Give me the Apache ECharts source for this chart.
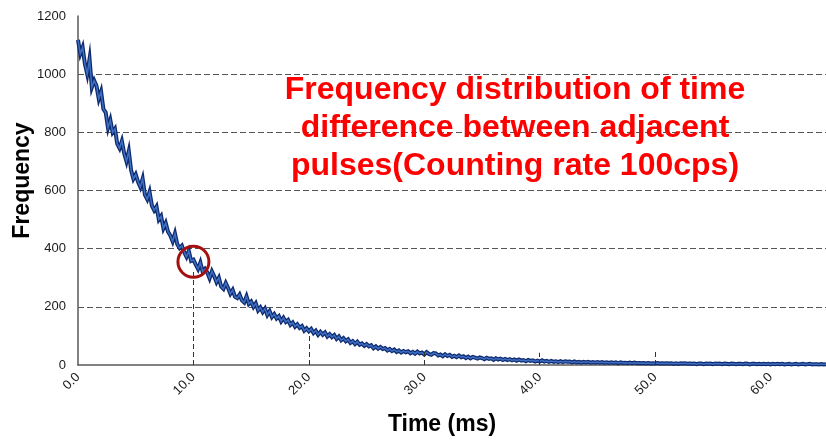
<!DOCTYPE html>
<html>
<head>
<meta charset="utf-8">
<script src="https://cdn.jsdelivr.net/npm/echarts@6/dist/echarts.min.js"></script>
<style>
  html, body { margin: 0; padding: 0; background: #ffffff; }
  #chart { width: 826px; height: 440px; }
</style>
</head>
<body>
<div id="chart"></div>
<script>
const binWidthMs = 0.2;
const frequencies = [
  1118, 1070, 1092, 1035, 1000,
  1052, 955, 978, 960, 915,
  940, 880, 868, 815, 842,
  800, 812, 760, 745, 770,
  728, 700, 735, 670, 640,
  655, 630, 612, 640, 585,
  570, 595, 548, 532, 545,
  500, 512, 470, 488, 458,
  445, 425, 452, 415, 402,
  410, 388, 372, 392, 358,
  362, 345, 330, 352, 320,
  330, 318, 298, 322, 305,
  285, 300, 270, 262, 282,
  265, 245, 258, 235, 230,
  242, 222, 215, 236, 210,
  218, 200, 212, 188, 198,
  182, 194, 172, 185, 165,
  175, 160, 168, 150, 162,
  148, 155, 138, 146, 132,
  140, 128, 134, 118, 126,
  116, 124, 110, 118, 104,
  114, 104, 112, 98, 106,
  96, 103, 90, 98, 85,
  92, 82, 88, 76, 82,
  72, 80, 70, 74, 66,
  72, 64, 68, 58, 64,
  56, 62, 55, 58, 50,
  55, 48, 53, 45, 50,
  43, 48, 44, 47, 40,
  45, 39, 46, 40, 43,
  36, 44, 38, 35, 41,
  40, 33, 36, 30, 37,
  31, 35, 28, 32, 27,
  33, 27, 30, 24, 29,
  23, 28, 25, 22, 26,
  24, 20, 25, 21, 23,
  18, 23, 19, 22, 17,
  21, 17, 20, 16, 19,
  15, 19, 15, 17, 13,
  17, 14, 16, 12, 15,
  12, 16, 12, 14, 11,
  14, 11, 13, 10, 13,
  10, 13, 11, 12, 9,
  12, 9, 11, 8, 11,
  9, 11, 8, 10, 8,
  10, 8, 10, 7, 9,
  7, 9, 7, 9, 6,
  9, 7, 8, 6, 8,
  6, 8, 6, 7, 6,
  7, 5, 7, 5, 6,
  5, 7, 5, 6, 5,
  6, 5, 6, 4, 6,
  4, 6, 5, 6, 4,
  5, 4, 5, 3, 5,
  5, 3, 5, 4, 5,
  3, 5, 4, 5, 3,
  5, 4, 3, 5, 4,
  3, 4, 4, 3, 5,
  4, 2, 4, 4, 3,
  4, 3, 4, 3, 4,
  2, 4, 3, 4, 3,
  4, 2, 3, 4, 2,
  3, 4, 2, 3, 4,
  2, 3, 4, 2, 3,
  3, 2, 3, 2, 3
];
// Time-bin category labels (ms)
const timeCategories = frequencies.map((_, i) => (i * binWidthMs).toFixed(1));

// Y-axis ticks
const yTicks = [0, 200, 400, 600, 800, 1000, 1200];

// Vertical dashed drop lines: time (ms) and top frequency
const dropLineTimes = ['10.0', '20.0', '30.0', '40.0', '50.0'];
const dropLineTops = [325, 113, 44, 42, 52];

// Highlighted point (red circle)
const highlightTime = '10.0';
const highlightValue = 355;

const titleLines = [
  'Frequency distribution of time',
  'difference between adjacent',
  'pulses(Counting rate 100cps)'
];

const chart = echarts.init(document.getElementById('chart'), null, { renderer: 'canvas' });

const fontFamily = '"Liberation Sans", Arial, sans-serif';

const option = {
  animation: false,
  backgroundColor: '#ffffff',
  grid: { left: 78, right: 0, top: 16, bottom: 75, containLabel: false, outerBoundsMode: 'none' },
  xAxis: {
    type: 'category',
    data: timeCategories,
    boundaryGap: false,
    name: 'Time (ms)',
    nameLocation: 'middle',
    nameGap: 48,
    nameMoveOverlap: false,
    nameTextStyle: {
      fontFamily, fontWeight: 'bold', fontSize: 23, color: '#000',
      padding: [0, 20, 0, 0]
    },
    axisLine: { show: true, lineStyle: { color: '#595959', width: 1.5 } },
    axisTick: { show: false },
    axisLabel: {
      interval: 49,
      rotate: 45,
      margin: 10,
      fontFamily, fontSize: 13, color: '#1a1a1a'
    },
    splitLine: { show: false }
  },
  yAxis: {
    type: 'value',
    min: yTicks[0],
    max: yTicks[yTicks.length - 1],
    interval: 200,
    name: 'Frequency',
    nameLocation: 'middle',
    nameGap: 44,
    nameMoveOverlap: false,
    nameTextStyle: {
      fontFamily, fontWeight: 'bold', fontSize: 23, color: '#000',
      padding: [0, 0, 0, 20]
    },
    axisLine: { show: true, lineStyle: { color: '#595959', width: 1.5 } },
    axisTick: { show: false },
    axisLabel: {
      margin: 12, fontFamily, fontSize: 13, color: '#1a1a1a',
      formatter: (v) => String(v)
    },
    splitLine: {
      show: true,
      showMinLine: false,
      showMaxLine: false,
      lineStyle: { color: '#555', width: 1, type: [6, 3] }
    }
  },
  graphic: [{
    type: 'text',
    z: 100,
    style: {
      text: titleLines.join('\n'),
      x: 515,
      y: 128,
      align: 'center',
      verticalAlign: 'middle',
      lineHeight: 38,
      font: 'bold 32px ' + fontFamily,
      fill: '#ff0000'
    }
  }],
  series: [
    {
      name: 'outline',
      type: 'line',
      data: frequencies,
      showSymbol: false,
      symbol: 'none',
      lineStyle: { color: '#0e2a6e', width: 4, join: 'miter' },
      z: 2,
      markLine: {
        silent: true,
        symbol: 'none',
        label: { show: false },
        lineStyle: { color: '#333', width: 1, type: [5, 3] },
        data: dropLineTimes.map((t, i) => [
          { coord: [t, 0] },
          { coord: [t, dropLineTops[i]] }
        ])
      }
    },
    {
      name: 'Frequency',
      type: 'line',
      data: frequencies,
      showSymbol: false,
      symbol: 'none',
      lineStyle: { color: '#3f6fc2', width: 1.5, join: 'miter' },
      z: 3,
      markPoint: {
        silent: true,
        symbol: 'circle',
        symbolSize: 31,
        label: { show: false },
        itemStyle: { color: 'rgba(0,0,0,0)', borderColor: '#a50f0f', borderWidth: 3 },
        data: [{ coord: [highlightTime, highlightValue] }]
      }
    }
  ]
};

chart.setOption(option);
</script>
</body>
</html>
